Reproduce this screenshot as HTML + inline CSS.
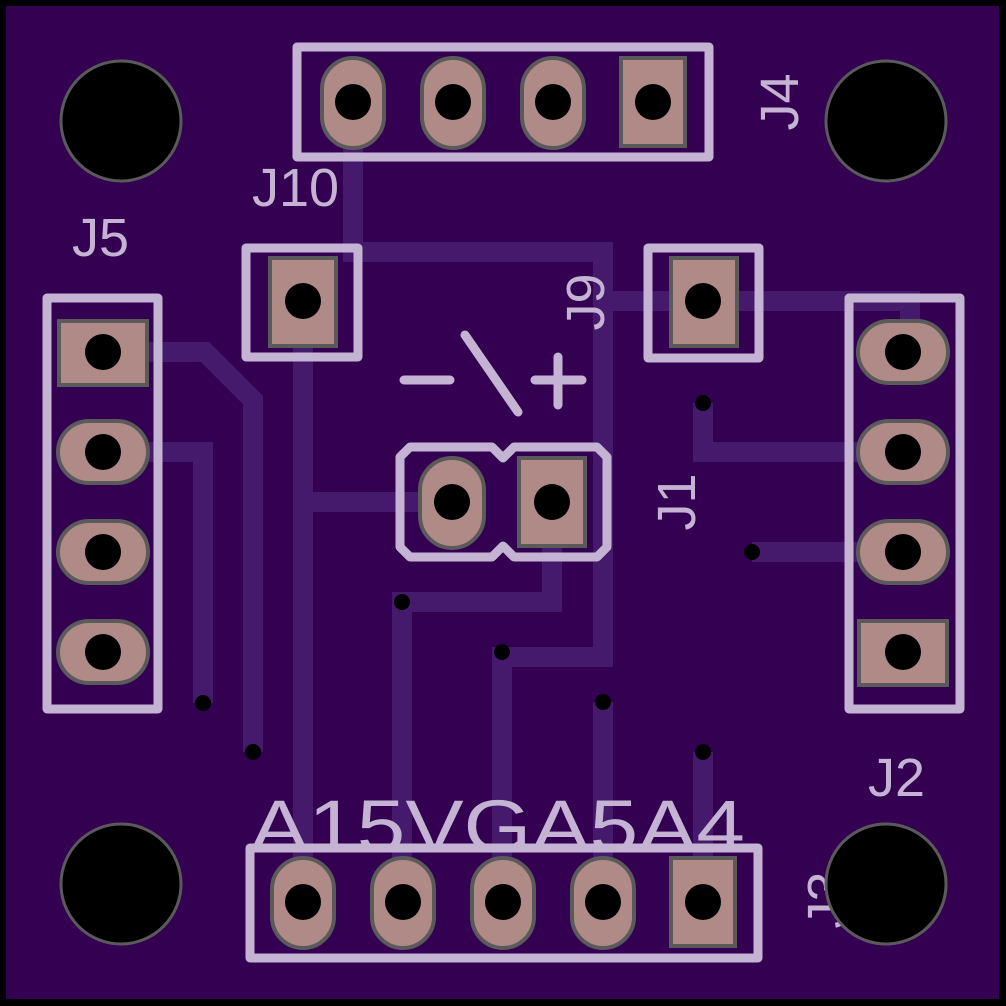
<!DOCTYPE html><html><head><style>body{margin:0;background:#000}svg{display:block}</style></head><body>
<svg width="1006" height="1006" viewBox="0 0 1006 1006" xmlns="http://www.w3.org/2000/svg">
<rect width="1006" height="1006" fill="#000"/>
<rect x="6" y="6" width="993" height="993" fill="#330052"/>
<g fill="none" stroke="#45196b" stroke-width="20" stroke-linejoin="miter">
<path d="M103 352 H205 L253 400 V752"/>
<path d="M103 452 H203 V703"/>
<path d="M303 301 V860"/>
<path d="M303 502 H452"/>
<path d="M353 102 V252 H603 V657 H502 V860"/>
<path d="M603 301 H910 V352"/>
<path d="M603 702 V860"/>
<path d="M703 403 V452 H903"/>
<path d="M752 552 H903"/>
<path d="M552 502 V602 H402 V860"/>
<path d="M703 752 V902"/>
</g>
<g fill="#000" stroke="#5a5a5a" stroke-width="3">
<circle cx="121" cy="121" r="60"/><circle cx="886" cy="121" r="60"/>
<circle cx="121" cy="884" r="60"/><circle cx="886" cy="884" r="60"/>
</g>
<g fill="#000"><circle cx="703" cy="403" r="8"/><circle cx="203" cy="703" r="8"/><circle cx="253" cy="752" r="8"/><circle cx="752" cy="552" r="8"/><circle cx="402" cy="602" r="8"/><circle cx="502" cy="652" r="8"/><circle cx="603" cy="702" r="8"/><circle cx="703" cy="752" r="8"/></g>
<g fill="none" stroke="#c5b3d3" stroke-width="9" stroke-linecap="round" stroke-linejoin="round">
<rect x="297" y="47" width="412" height="110"/>
<rect x="246" y="248" width="112" height="109"/>
<rect x="648" y="248" width="111" height="110"/>
<rect x="47" y="298" width="111" height="411"/>
<rect x="849" y="298" width="111" height="411"/>
<rect x="250" y="848" width="508" height="110"/>
<path d="M410 447 H492 L503 458 L514 447 H597 L607 457 V547 L597 557 H514 L503 546 L492 557 H410 L400 547 V457 Z"/>
<path d="M404 380 H450 M465 335 L518 412 M535 380 H582 M558 357 V405"/>
</g>
<g fill="#b08a86" stroke="#5a5a5a" stroke-width="4">
<rect x="322" y="58" width="62" height="90" rx="31"/>
<rect x="422" y="58" width="62" height="90" rx="31"/>
<rect x="522" y="58" width="62" height="90" rx="31"/>
<rect x="621" y="58" width="64" height="88"/>
<rect x="270" y="258" width="66" height="88"/>
<rect x="671" y="258" width="66" height="88"/>
<rect x="59" y="321" width="88" height="64"/>
<rect x="58" y="421" width="90" height="62" rx="31"/>
<rect x="58" y="521" width="90" height="62" rx="31"/>
<rect x="58" y="621" width="90" height="62" rx="31"/>
<rect x="858" y="321" width="90" height="62" rx="31"/>
<rect x="858" y="421" width="90" height="62" rx="31"/>
<rect x="858" y="521" width="90" height="62" rx="31"/>
<rect x="859" y="621" width="88" height="64"/>
<rect x="420" y="458" width="64" height="90" rx="32"/>
<rect x="519" y="458" width="66" height="88"/>
<rect x="272" y="858" width="62" height="90" rx="31"/>
<rect x="372" y="858" width="62" height="90" rx="31"/>
<rect x="472" y="858" width="62" height="90" rx="31"/>
<rect x="572" y="858" width="62" height="90" rx="31"/>
<rect x="671" y="858" width="64" height="88"/>
</g>
<g fill="#000">
<circle cx="353" cy="102" r="18"/><circle cx="453" cy="102" r="18"/><circle cx="553" cy="102" r="18"/><circle cx="653" cy="102" r="18"/>
<circle cx="303" cy="301" r="18"/><circle cx="703" cy="301" r="18"/>
<circle cx="103" cy="352" r="18"/><circle cx="103" cy="452" r="18"/><circle cx="103" cy="552" r="18"/><circle cx="103" cy="652" r="18"/>
<circle cx="903" cy="352" r="18"/><circle cx="903" cy="452" r="18"/><circle cx="903" cy="552" r="18"/><circle cx="903" cy="652" r="18"/>
<circle cx="452" cy="502" r="18"/><circle cx="552" cy="502" r="18"/>
<circle cx="303" cy="902" r="18"/><circle cx="403" cy="902" r="18"/><circle cx="503" cy="902" r="18"/><circle cx="603" cy="902" r="18"/><circle cx="703" cy="902" r="18"/>
</g>
<g fill="#c5b3d3" font-family="Liberation Sans, sans-serif">
<text x="252" y="206" font-size="54">J10</text>
<text x="72" y="256" font-size="54">J5</text>
<text x="868" y="796" font-size="54">J2</text>
<text x="250" y="852" font-size="74" textLength="495" lengthAdjust="spacingAndGlyphs">A15VGA5A4</text>
<text font-size="54" transform="translate(798,102) rotate(-90)" text-anchor="middle">J4</text>
<text font-size="54" transform="translate(604,302) rotate(-90)" text-anchor="middle">J9</text>
<text font-size="54" transform="translate(695,502) rotate(-90)" text-anchor="middle">J1</text>
<text font-size="54" transform="translate(845,900) rotate(-90)" text-anchor="middle">J3</text>
</g>
<circle cx="886" cy="884" r="60" fill="#000" stroke="#5a5a5a" stroke-width="3"/>
</svg>
</body></html>
